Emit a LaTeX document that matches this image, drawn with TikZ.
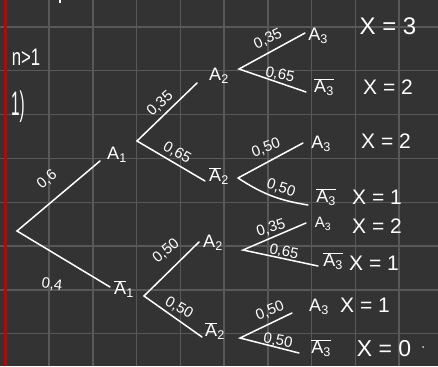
\documentclass[tikz,border=0pt]{standalone}
\usepackage{fontspec}
\setmainfont{Liberation Sans}
\definecolor{bg}{HTML}{333333}
\definecolor{gridc}{HTML}{585858}
\definecolor{margin}{HTML}{C80000}
\newcommand{\Asub}[1]{A\textsubscript{#1}}
\newcommand{\Abar}[1]{$\overline{\mbox{A}}$\textsubscript{#1}}
\newcommand{\Abarall}[1]{$\overline{\mbox{A\textsubscript{#1}}}$}
\begin{document}
\begin{tikzpicture}[x=1pt,y=-1pt,
  edge/.style={white,line width=1.5pt,line cap=round},
  lbl/.style={text=white,font=\fontsize{15}{15}\selectfont,inner sep=0pt},
  ev/.style={text=white,font=\fontsize{18}{18}\selectfont,inner sep=0pt},
  res/.style={text=white,font=\fontsize{21}{21}\selectfont,inner sep=0pt}]
\useasboundingbox (0,0) rectangle (438,366);
\fill[bg] (0,0) rectangle (438,366);
\foreach \i in {0,...,9} \draw[gridc,line width=1.4pt] (5.3+43.75*\i,0) -- (5.3+43.75*\i,366);
\foreach \j in {0,...,7} \draw[gridc,line width=1.4pt] (0,27+43.8*\j) -- (438,27+43.8*\j);
\draw[margin,line width=3pt] (5.3,0) -- (5.3,366);
\draw[white,line width=1.5pt] (60,0) -- (60,3);
% headings
\node[res,font=\fontsize{24}{24}\selectfont] (cond) at (26,57) {\scalebox{0.7}[1]{n>1}};
\node[res,font=\fontsize{34}{34}\selectfont] (part) at (18,107) {\scalebox{0.45}[1]{1)}};
% coordinates
\coordinate (root) at (17,231);
\coordinate (e1) at (100,161);
\coordinate (e2) at (110,287);
\coordinate (b1) at (137,141);
\coordinate (e11) at (197,83);
\coordinate (e12) at (205,181);
\coordinate (b4) at (144,296);
\coordinate (e41) at (199,242);
\coordinate (e42) at (202,337);
\coordinate (b2) at (239,69);
\coordinate (e21) at (305,33);
\coordinate (e22) at (306,92);
\coordinate (b3) at (238,178);
\coordinate (e31) at (303,143);
\coordinate (e32) at (308,205);
\coordinate (b5) at (243,250);
\coordinate (e51) at (306,223);
\coordinate (e52) at (318,266);
\coordinate (b6) at (240,338);
\coordinate (e61) at (292,313);
\coordinate (e62) at (299,353);
% edges
\draw[edge] (e1) -- (root) -- (e2);
\draw[edge] (e11) -- (b1) -- (e12);
\draw[edge] (e41) -- (b4) -- (e42);
\draw[edge] (e21) -- (b2) -- (e22);
\draw[edge] (e31) -- (b3);
\draw[edge] (b3) to[bend right=12] (e32);
\draw[edge] (e51) -- (b5) -- (e52);
\draw[edge] (e61) -- (b6) -- (e62);
% probabilities
\node[lbl,rotate=40] (p1) at (47,180) {0,6};
\node[lbl,rotate=-8] (p2) at (52,285) {0,4};
\node[lbl,rotate=42] (p3) at (160,104) {0,35};
\node[lbl,rotate=-30] (p4) at (177,153) {0,65};
\node[lbl,rotate=40] (p5) at (166,251) {0,50};
\node[lbl,rotate=-30] (p6) at (179,308) {0,50};
\node[lbl,rotate=25] (p7) at (268,39) {0,35};
\node[lbl,rotate=-12] (p8) at (280,75) {0,65};
\node[lbl,rotate=20] (p9) at (266,148) {0,50};
\node[lbl,rotate=-18] (p10) at (281,188) {0,50};
\node[lbl,rotate=18] (p11) at (271,228) {0,35};
\node[lbl,rotate=-12] (p12) at (284,252) {0,65};
\node[lbl,rotate=22] (p13) at (270,311) {0,50};
\node[lbl,rotate=-10] (p14) at (278,341) {0,50};
% events
\node[ev] (A1) at (117,155) {\Asub{1}};
\node[ev] (nA1) at (124,289) {\Abar{1}};
\node[ev] (A2a) at (219,76) {\Asub{2}};
\node[ev] (nA2a) at (219,176) {\Abar{2}};
\node[ev] (A2b) at (213,243) {\Asub{2}};
\node[ev] (nA2b) at (215,331) {\Abar{2}};
\node[ev] (A3a) at (318,36) {\Asub{3}};
\node[ev] (nA3a) at (324,87) {\Abarall{3}};
\node[ev] (A3b) at (321,144) {\Asub{3}};
\node[ev] (nA3b) at (326,197) {\Abarall{3}};
\node[ev,font=\fontsize{15}{15}\selectfont] (A3c) at (323,224) {\Asub{3}};
\node[ev] (nA3c) at (333,261) {\Abarall{3}};
\node[ev] (A3d) at (319,307) {\Asub{3}};
\node[ev] (nA3d) at (321,348) {\Abarall{3}};
% results
\node[res,font=\fontsize{24}{24}\selectfont] (x1) at (388,26) {X = 3};
\node[res] (x2) at (388,87) {X = 2};
\node[res] (x3) at (386,141) {X = 2};
\node[res] (x4) at (377,197) {X = 1};
\node[res] (x5) at (377,226) {X = 2};
\node[res] (x6) at (374,263) {X = 1};
\node[res] (x7) at (365,305) {X = 1};
\node[res,font=\fontsize{23}{23}\selectfont] (x8) at (384,349) {X = 0};
\fill[white!80!bg] (423,347) circle (1pt);
\end{tikzpicture}
\end{document}
